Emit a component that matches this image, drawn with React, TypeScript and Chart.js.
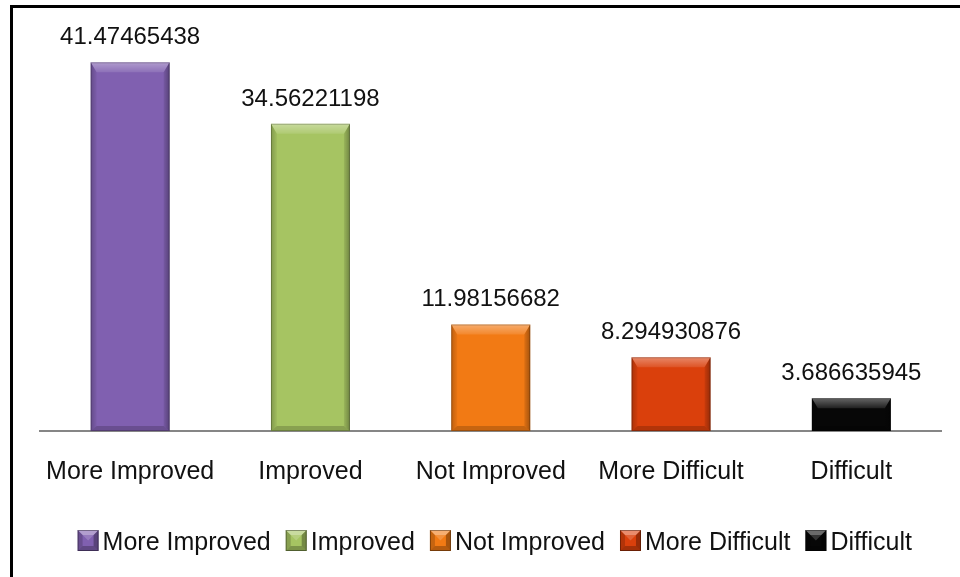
import { useEffect, useRef } from "react";
import { Chart, registerables } from "chart.js";

Chart.register(...registerables);

// Survey outcome categories and their percentage shares
const categories = ["More Improved", "Improved", "Not Improved", "More Difficult", "Difficult"];
const values = [41.47465438, 34.56221198, 11.98156682, 8.294930876, 3.686635945];
const barColors = ["#8060B0", "#A6C462", "#F27A14", "#DA400C", "#070707"];

const FONT = "'Liberation Sans', Arial, sans-serif";
const TEXT_COLOR = "#111111";

type Pt = [number, number];

function poly(ctx: CanvasRenderingContext2D, pts: Pt[], fill: string | CanvasGradient) {
  ctx.beginPath();
  ctx.moveTo(pts[0][0], pts[0][1]);
  for (let i = 1; i < pts.length; i++) ctx.lineTo(pts[i][0], pts[i][1]);
  ctx.closePath();
  ctx.fillStyle = fill;
  ctx.fill();
}

// Bevelled shading over a filled rectangle: lit top, shaded sides and bottom
function drawBevel(
  ctx: CanvasRenderingContext2D,
  x0: number,
  y0: number,
  x1: number,
  y1: number,
  top: number,
  side: number,
  bottom: number
) {
  const h = y1 - y0;
  const t = Math.min(top, h / 2);
  const b = Math.min(bottom, h / 3);
  const s = Math.min(side, (x1 - x0) / 3);
  const grad = ctx.createLinearGradient(0, y0, 0, y0 + t);
  grad.addColorStop(0, "rgba(255,255,255,0.38)");
  grad.addColorStop(1, "rgba(255,255,255,0.10)");
  poly(ctx, [[x0, y0], [x1, y0], [x1 - s, y0 + t], [x0 + s, y0 + t]], grad);
  const lg = ctx.createLinearGradient(x0, 0, x0 + s, 0);
  lg.addColorStop(0, "rgba(0,0,0,0.22)");
  lg.addColorStop(1, "rgba(0,0,0,0.04)");
  poly(ctx, [[x0, y0], [x0 + s, y0 + t], [x0 + s, y1 - b], [x0, y1]], lg);
  const rg = ctx.createLinearGradient(x1, 0, x1 - s, 0);
  rg.addColorStop(0, "rgba(0,0,0,0.32)");
  rg.addColorStop(1, "rgba(0,0,0,0.08)");
  poly(ctx, [[x1, y0], [x1 - s, y0 + t], [x1 - s, y1 - b], [x1, y1]], rg);
  poly(ctx, [[x0, y1], [x0 + s, y1 - b], [x1 - s, y1 - b], [x1, y1]], "rgba(0,0,0,0.18)");
  ctx.strokeStyle = "rgba(0,0,0,0.22)";
  ctx.lineWidth = 1;
  ctx.strokeRect(x0 + 0.5, y0 + 0.5, x1 - x0 - 1, y1 - y0 - 1);
}

const framePlugin = {
  id: "frame",
  beforeDraw(chart: any) {
    const ctx = chart.ctx as CanvasRenderingContext2D;
    ctx.save();
    ctx.fillStyle = "#ffffff";
    ctx.fillRect(0, 0, chart.width, chart.height);
    ctx.fillStyle = "#000000";
    ctx.fillRect(10, 5, chart.width, 3);
    ctx.fillRect(10, 5, 3, chart.height);
    ctx.restore();
  },
};

const bevelPlugin = {
  id: "bevel",
  afterDatasetsDraw(chart: any) {
    const ctx = chart.ctx as CanvasRenderingContext2D;
    const meta = chart.getDatasetMeta(0);
    ctx.save();
    meta.data.forEach((el: any) => {
      const p = el.getProps(["x", "y", "base", "width"], true);
      const x0 = p.x - p.width / 2;
      const x1 = p.x + p.width / 2;
      const y0 = Math.min(p.y, p.base);
      const y1 = Math.max(p.y, p.base);
      drawBevel(ctx, x0, y0, x1, y1, 10, 6, 5);
    });
    ctx.restore();
  },
};

const valueLabelPlugin = {
  id: "valueLabels",
  afterDatasetsDraw(chart: any) {
    const ctx = chart.ctx as CanvasRenderingContext2D;
    const meta = chart.getDatasetMeta(0);
    const data = chart.data.datasets[0].data as number[];
    ctx.save();
    ctx.font = `24px ${FONT}`;
    ctx.fillStyle = TEXT_COLOR;
    ctx.textAlign = "center";
    ctx.textBaseline = "alphabetic";
    meta.data.forEach((el: any, i: number) => {
      const p = el.getProps(["x", "y"], true);
      ctx.fillText(String(data[i]), p.x, p.y - 18);
    });
    ctx.restore();
  },
};

const legendPlugin = {
  id: "bevelLegend",
  afterDraw(chart: any) {
    const ctx = chart.ctx as CanvasRenderingContext2D;
    const labels = chart.data.labels as string[];
    const colors = chart.data.datasets[0].backgroundColor as string[];
    const box = 21;
    const gap = 4;
    const spacing = 15;
    ctx.save();
    ctx.font = `25px ${FONT}`;
    const widths = labels.map((l) => ctx.measureText(l).width);
    const total =
      widths.reduce((a, w) => a + w + box + gap, 0) + spacing * (labels.length - 1);
    const area = chart.chartArea;
    let x = (area.left + area.right) / 2 + 4 - total / 2;
    const boxTop = 530;
    const baseline = 550;
    labels.forEach((label, i) => {
      ctx.fillStyle = colors[i];
      ctx.fillRect(x, boxTop, box, box);
      // pyramid shading on the legend swatch
      const cx = x + box / 2;
      const cy = boxTop + box / 2;
      const inset = 5;
      poly(ctx, [[x, boxTop], [x + box, boxTop], [x + box - inset, boxTop + inset], [x + inset, boxTop + inset]], "rgba(255,255,255,0.40)");
      poly(ctx, [[x, boxTop], [x + inset, boxTop + inset], [x + inset, boxTop + box - inset], [x, boxTop + box]], "rgba(0,0,0,0.18)");
      poly(ctx, [[x + box, boxTop], [x + box - inset, boxTop + inset], [x + box - inset, boxTop + box - inset], [x + box, boxTop + box]], "rgba(0,0,0,0.30)");
      poly(ctx, [[x, boxTop + box], [x + inset, boxTop + box - inset], [x + box - inset, boxTop + box - inset], [x + box, boxTop + box]], "rgba(0,0,0,0.25)");
      poly(ctx, [[x + inset, boxTop + inset], [x + box - inset, boxTop + inset], [cx, cy]], "rgba(255,255,255,0.18)");
      ctx.strokeStyle = "rgba(0,0,0,0.35)";
      ctx.lineWidth = 1;
      ctx.strokeRect(x + 0.5, boxTop + 0.5, box - 1, box - 1);
      x += box + gap;
      ctx.fillStyle = TEXT_COLOR;
      ctx.textAlign = "left";
      ctx.textBaseline = "alphabetic";
      ctx.fillText(label, x, baseline);
      x += widths[i] + spacing;
    });
    ctx.restore();
  },
};

export default function App() {
  const canvasRef = useRef<HTMLCanvasElement | null>(null);

  useEffect(() => {
    const canvas = canvasRef.current;
    if (!canvas) return;
    const chart = new Chart(canvas, {
      type: "bar",
      data: {
        labels: categories,
        datasets: [
          {
            data: values,
            backgroundColor: barColors,
            borderWidth: 0,
            categoryPercentage: 1,
            barPercentage: 0.438,
          },
        ],
      },
      options: {
        responsive: false,
        animation: false,
        devicePixelRatio: 1,
        layout: { padding: { left: 40, right: 18.5, top: 31, bottom: 64 } },
        plugins: {
          legend: { display: false },
          tooltip: { enabled: false },
        },
        scales: {
          x: {
            grid: { display: false, drawTicks: false },
            border: { display: true, color: "#868686", width: 2 },
            ticks: {
              color: TEXT_COLOR,
              font: { family: FONT, size: 25 },
              padding: 26,
              maxRotation: 0,
              autoSkip: false,
            },
          },
          y: {
            display: false,
            min: 0,
            max: 45,
          },
        },
      },
      plugins: [framePlugin, bevelPlugin, valueLabelPlugin, legendPlugin],
    });
    return () => chart.destroy();
  }, []);

  return (
    <div style={{ position: "fixed", left: 0, top: 0, width: 960, height: 577, background: "#fff" }}>
      <canvas ref={canvasRef} width={960} height={577} style={{ display: "block", width: 960, height: 577 }} />
    </div>
  );
}
